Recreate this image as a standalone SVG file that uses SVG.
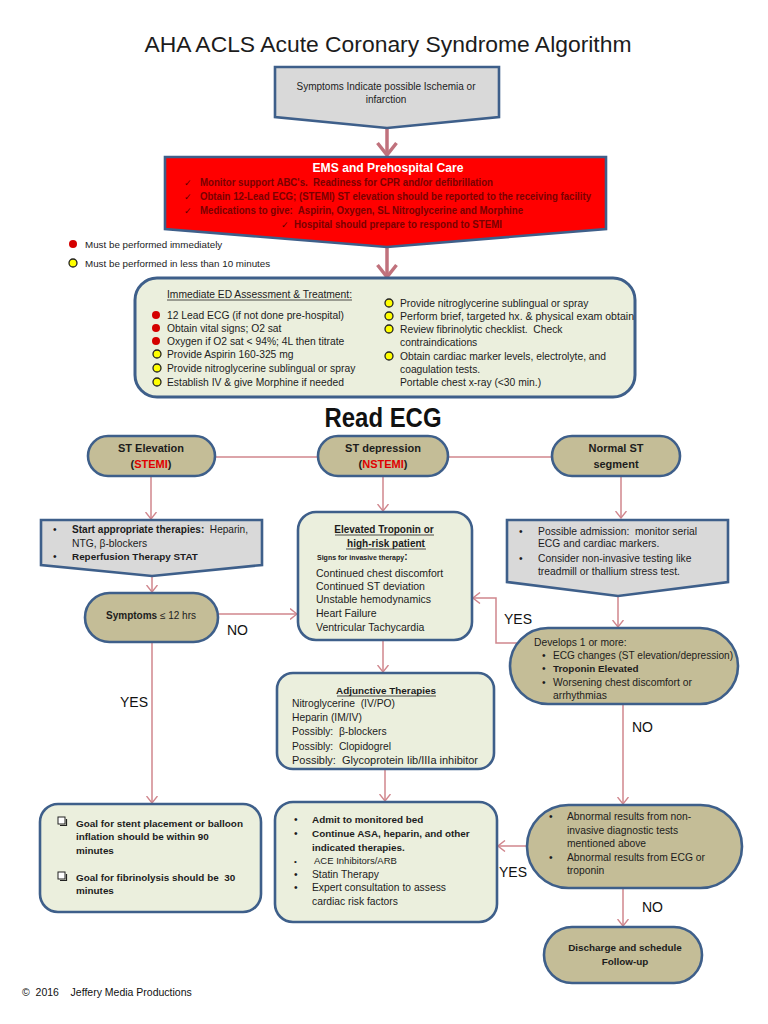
<svg xmlns="http://www.w3.org/2000/svg" width="768" height="1024" viewBox="0 0 768 1024">
<defs>
<style>
text{font-family:"Liberation Sans",Arial,sans-serif;fill:#1c1c1c;white-space:pre}
.r{font-size:10.3px}
.b{font-size:9.9px;font-weight:bold}
.c{text-anchor:middle}
.ems{font-size:10px;font-weight:bold;fill:#7a0000}
.chk{font-family:"DejaVu Sans",sans-serif;font-size:9px;fill:#5a0000}
.lbl{font-size:14px;fill:#111}
.box{fill:#ebefdd;stroke:#3e5f8a;stroke-width:2.6}
.gray{fill:#d9d9d9;stroke:#3e5f8a;stroke-width:2.6}
.tan{fill:#c4bd97;stroke:#3e5f8a;stroke-width:2.6}
.con{fill:none;stroke:#d0868d;stroke-width:1.5}
.thick{fill:none;stroke:#c0717c;stroke-width:3.5}
.red{fill:#d40000}
.yel{fill:#ffff00;stroke:#222;stroke-width:1.3}
.cb{fill:#fff;stroke:#222;stroke-width:1}
</style>
<marker id="ah" viewBox="0 0 8 12" refX="7.5" refY="6" markerWidth="8" markerHeight="12" markerUnits="userSpaceOnUse" orient="auto"><path d="M0.5,0.5 L7.5,6 L0.5,11.5" fill="none" stroke="#d0868d" stroke-width="1.4"/></marker>
<marker id="ah2" viewBox="0 0 16 22" refX="14" refY="11" markerWidth="16" markerHeight="22" markerUnits="userSpaceOnUse" orient="auto"><path d="M2,1.5 L14,11 L2,20.5" fill="none" stroke="#c0717c" stroke-width="3.5"/></marker>
</defs>
<rect width="768" height="1024" fill="#fff"/>

<text x="388" y="52" class="c" style="font-size:22px" textLength="487" lengthAdjust="spacingAndGlyphs">AHA ACLS Acute Coronary Syndrome Algorithm</text>

<g id="connectors">
<path class="thick" d="M387,128 V155" marker-end="url(#ah2)"/>
<path class="thick" d="M387,247 V277" marker-end="url(#ah2)"/>
<path class="con" d="M215,457 H318"/>
<path class="con" d="M448,457 H552"/>
<path class="con" d="M151,476 V519" marker-end="url(#ah)"/>
<path class="con" d="M383,476 V511" marker-end="url(#ah)"/>
<path class="con" d="M621,476 V518" marker-end="url(#ah)"/>
<path class="con" d="M152,576 V592" marker-end="url(#ah)"/>
<path class="con" d="M218,614 H297" marker-end="url(#ah)"/>
<path class="con" d="M152,642 V803" marker-end="url(#ah)"/>
<path class="con" d="M383,640 V672" marker-end="url(#ah)"/>
<path class="con" d="M385,769 V801" marker-end="url(#ah)"/>
<path class="con" d="M618,596 V627" marker-end="url(#ah)"/>
<path class="con" d="M520,643 H496 V598 H473" marker-end="url(#ah)"/>
<path class="con" d="M623,704 V804" marker-end="url(#ah)"/>
<path class="con" d="M527,846 H498" marker-end="url(#ah)"/>
<path class="con" d="M623,888 V926" marker-end="url(#ah)"/>
<text x="227" y="635" class="lbl">NO</text>
<text x="120" y="707" class="lbl">YES</text>
<text x="504" y="624" class="lbl">YES</text>
<text x="632" y="732" class="lbl">NO</text>
<text x="499" y="877" class="lbl">YES</text>
<text x="642" y="912" class="lbl">NO</text>
</g>

<g id="symptoms">
<path class="gray" d="M275,67 H499 V117 L387,128 L275,117 Z"/>
<text x="386" y="90" class="c" style="font-size:10px">Symptoms Indicate possible Ischemia or</text>
<text x="386" y="103" class="c" style="font-size:10px">infarction</text>
</g>

<g id="ems">
<path d="M165,157 H606 V229 L387,247 L165,229 Z" fill="#ff0000" stroke="#3e5f8a" stroke-width="2.6"/>
<text x="388" y="172" class="c" style="font-size:13px;font-weight:bold;fill:#fff" textLength="151" lengthAdjust="spacingAndGlyphs">EMS and Prehospital Care</text>
<text x="184" y="186" class="chk">✓</text>
<text x="200" y="186" class="ems" textLength="293" lengthAdjust="spacingAndGlyphs">Monitor support ABC's.  Readiness for CPR and/or defibrillation</text>
<text x="184" y="200" class="chk">✓</text>
<text x="200" y="200" class="ems" textLength="391" lengthAdjust="spacingAndGlyphs">Obtain 12-Lead ECG; (STEMI) ST elevation should be reported to the receiving facility</text>
<text x="184" y="214" class="chk">✓</text>
<text x="200" y="214" class="ems" textLength="323" lengthAdjust="spacingAndGlyphs">Medications to give:  Aspirin, Oxygen, SL Nitroglycerine and Morphine</text>
<text x="281" y="228" class="chk">✓</text>
<text x="294" y="228" class="ems" textLength="208" lengthAdjust="spacingAndGlyphs">Hospital should prepare to respond to STEMI</text>
</g>

<g id="legend">
<circle cx="73" cy="244" r="4" class="red"/>
<text x="85" y="247.5" style="font-size:9.8px">Must be performed immediately</text>
<circle cx="73" cy="263" r="4" class="yel"/>
<text x="85" y="266.5" style="font-size:9.8px">Must be performed in less than 10 minutes</text>
</g>

<g id="ed-assessment">
<rect x="135" y="278" width="500" height="119" rx="22" class="box" style="stroke-width:3"/>
<text x="167" y="298" class="r" textLength="185" lengthAdjust="spacingAndGlyphs">Immediate ED Assessment &amp; Treatment:</text>
<line x1="167" y1="300" x2="352" y2="300" stroke="#222" stroke-width="0.8"/>
<circle cx="156" cy="315" r="4" class="red"/>
<text x="167" y="318.5" class="r">12 Lead ECG (if not done pre-hospital)</text>
<circle cx="156" cy="328" r="4" class="red"/>
<text x="167" y="331.5" class="r">Obtain vital signs; O2 sat</text>
<circle cx="156" cy="341" r="4" class="red"/>
<text x="167" y="344.5" class="r">Oxygen if O2 sat &lt; 94%; 4L then titrate</text>
<circle cx="157" cy="354" r="4" class="yel"/>
<text x="167" y="357.5" class="r">Provide Aspirin 160-325 mg</text>
<circle cx="157" cy="368" r="4" class="yel"/>
<text x="167" y="371.5" class="r">Provide nitroglycerine sublingual or spray</text>
<circle cx="157" cy="382" r="4" class="yel"/>
<text x="167" y="385.5" class="r">Establish IV &amp; give Morphine if needed</text>
<circle cx="389" cy="303" r="4" class="yel"/>
<text x="400" y="306.5" class="r">Provide nitroglycerine sublingual or spray</text>
<circle cx="389" cy="316" r="4" class="yel"/>
<text x="400" y="319.5" class="r" textLength="234" lengthAdjust="spacingAndGlyphs">Perform brief, targeted hx. &amp; physical exam obtain</text>
<circle cx="389" cy="329" r="4" class="yel"/>
<text x="400" y="332.5" class="r">Review fibrinolytic checklist.  Check</text>
<text x="400" y="345.5" class="r">contraindications</text>
<circle cx="389" cy="356" r="4" class="yel"/>
<text x="400" y="359.5" class="r">Obtain cardiac marker levels, electrolyte, and</text>
<text x="400" y="372.5" class="r">coagulation tests.</text>
<text x="400" y="385.5" class="r">Portable chest x-ray (&lt;30 min.)</text>
</g>

<text x="383" y="427" class="c" style="font-size:27px;font-weight:bold;fill:#111" textLength="117" lengthAdjust="spacingAndGlyphs">Read ECG</text>

<g id="st-elevation">
<rect x="88" y="436" width="127" height="40" rx="20" class="tan"/>
<text x="151" y="452" class="c" style="font-size:11px;font-weight:bold">ST Elevation</text>
<text x="151" y="468" class="c" style="font-size:11px;font-weight:bold">(<tspan fill="#e00000">STEMI</tspan>)</text>
</g>
<g id="st-depression">
<rect x="318" y="436" width="130" height="40" rx="20" class="tan"/>
<text x="383" y="452" class="c" style="font-size:11px;font-weight:bold">ST depression</text>
<text x="383" y="468" class="c" style="font-size:11px;font-weight:bold">(<tspan fill="#e00000">NSTEMI</tspan>)</text>
</g>
<g id="normal-st">
<rect x="552" y="436" width="128" height="40" rx="20" class="tan"/>
<text x="616" y="452" class="c" style="font-size:11px;font-weight:bold">Normal ST</text>
<text x="616" y="468" class="c" style="font-size:11px;font-weight:bold">segment</text>
</g>

<g id="stemi-therapies">
<path class="gray" d="M41,520 H262 V565 L152,576 L41,565 Z"/>
<text x="53" y="533" class="r">•</text>
<text x="72" y="533" class="r" textLength="176" lengthAdjust="spacingAndGlyphs"><tspan font-weight="bold">Start appropriate therapies:</tspan>  Heparin,</text>
<text x="72" y="547" class="r">NTG, β-blockers</text>
<text x="53" y="560" class="r">•</text>
<text x="72" y="560" class="b">Reperfusion Therapy STAT</text>
</g>

<g id="symptoms-12">
<rect x="85" y="593" width="133" height="49" rx="24.5" class="tan"/>
<text x="151" y="619" class="c" style="font-size:10px"><tspan font-weight="bold">Symptoms</tspan> ≤ 12 hrs</text>
</g>

<g id="elevated-troponin">
<rect x="298" y="512" width="174" height="128" rx="18" class="box"/>
<text x="384" y="533" class="b c" style="font-size:10px">Elevated Troponin or</text>
<line x1="335" y1="535" x2="434" y2="535" stroke="#222" stroke-width="0.8"/>
<text x="386" y="547" class="b c" style="font-size:10px">high-risk patient</text>
<line x1="346" y1="549" x2="426" y2="549" stroke="#222" stroke-width="0.8"/>
<text x="317" y="560" style="font-size:7px;font-weight:bold">Signs for invasive therapy<tspan style="font-size:10px">:</tspan></text>
<text x="316" y="577" style="font-size:10.5px">Continued chest discomfort</text>
<text x="316" y="590" style="font-size:10.5px">Continued ST deviation</text>
<text x="316" y="603" style="font-size:10.5px">Unstable hemodynamics</text>
<text x="316" y="617" style="font-size:10.5px">Heart Failure</text>
<text x="316" y="631" style="font-size:10.5px">Ventricular Tachycardia</text>
</g>

<g id="normal-therapies">
<path class="gray" d="M507,520 H728 V582 L618,596 L507,582 Z"/>
<text x="519" y="535" class="r">•</text>
<text x="538" y="535" class="r" textLength="159" lengthAdjust="spacingAndGlyphs">Possible admission:  monitor serial</text>
<text x="538" y="547" class="r">ECG and cardiac markers.</text>
<text x="519" y="562" class="r">•</text>
<text x="538" y="562" class="r">Consider non-invasive testing like</text>
<text x="538" y="575" class="r">treadmill or thallium stress test.</text>
</g>

<g id="develops">
<rect x="510" y="628" width="228" height="76" rx="38" class="tan"/>
<text x="534" y="645.5" class="r">Develops 1 or more:</text>
<text x="542" y="658.5" class="r">•</text>
<text x="553" y="658.5" class="r" textLength="180" lengthAdjust="spacingAndGlyphs">ECG changes (ST elevation/depression)</text>
<text x="542" y="671.5" class="r">•</text>
<text x="553" y="671.5" class="b">Troponin Elevated</text>
<text x="542" y="685.5" class="r">•</text>
<text x="553" y="685.5" class="r">Worsening chest discomfort or</text>
<text x="553" y="698.5" class="r">arrhythmias</text>
</g>

<g id="adjunctive">
<rect x="277" y="673" width="217" height="96" rx="16" class="box"/>
<text x="386" y="694" class="b c">Adjunctive Therapies</text>
<line x1="337" y1="696" x2="436" y2="696" stroke="#222" stroke-width="0.8"/>
<text x="292" y="707" class="r">Nitroglycerine  (IV/PO)</text>
<text x="292" y="721" class="r">Heparin (IM/IV)</text>
<text x="292" y="735" class="r">Possibly:  β-blockers</text>
<text x="292" y="750" class="r">Possibly:  Clopidogrel</text>
<text x="292" y="764" class="r" textLength="186" lengthAdjust="spacingAndGlyphs">Possibly:  Glycoprotein Iib/IIIa inhibitor</text>
</g>

<g id="goals">
<rect x="40" y="804" width="221" height="108" rx="18" class="box"/>
<rect x="58" y="817" width="7" height="7" class="cb"/>
<path d="M60,825.5 H66.5 V819" fill="none" stroke="#222" stroke-width="1.2"/>
<text x="76" y="826.5" class="b" textLength="167" lengthAdjust="spacingAndGlyphs">Goal for stent placement or balloon</text>
<text x="76" y="840" class="b">inflation should be within 90</text>
<text x="76" y="854" class="b">minutes</text>
<rect x="58" y="872" width="7" height="7" class="cb"/>
<path d="M60,880.5 H66.5 V874" fill="none" stroke="#222" stroke-width="1.2"/>
<text x="76" y="881" class="b">Goal for fibrinolysis should be  30</text>
<text x="76" y="894" class="b">minutes</text>
</g>

<g id="admit">
<rect x="275" y="802" width="222" height="120" rx="18" class="box"/>
<text x="294" y="823" class="r">•</text>
<text x="312" y="823" class="b">Admit to monitored bed</text>
<text x="294" y="837" class="r">•</text>
<text x="312" y="837" class="b">Continue ASA, heparin, and other</text>
<text x="312" y="851" class="b">indicated therapies.</text>
<text x="294" y="864" style="font-size:8px">•</text>
<text x="314" y="864" style="font-size:9.5px">ACE Inhibitors/ARB</text>
<text x="294" y="878" class="r">•</text>
<text x="312" y="878" class="r">Statin Therapy</text>
<text x="294" y="891" class="r">•</text>
<text x="312" y="891" class="r">Expert consultation to assess</text>
<text x="312" y="905" class="r">cardiac risk factors</text>
</g>

<g id="abnormal">
<rect x="527" y="805" width="215" height="83" rx="41.5" class="tan"/>
<text x="549" y="819.5" class="r">•</text>
<text x="567" y="819.5" class="r">Abnormal results from non-</text>
<text x="567" y="833.5" class="r">invasive diagnostic tests</text>
<text x="567" y="846.5" class="r">mentioned above</text>
<text x="549" y="860.5" class="r">•</text>
<text x="567" y="860.5" class="r">Abnormal results from ECG or</text>
<text x="567" y="873.5" class="r">troponin</text>
</g>

<g id="discharge">
<rect x="544" y="927" width="158" height="56" rx="28" class="tan"/>
<text x="625" y="951" class="b c">Discharge and schedule</text>
<text x="625" y="965" class="b c">Follow-up</text>
</g>

<text x="22" y="996" style="font-size:10.5px;fill:#111">©  2016    Jeffery Media Productions</text>
</svg>
